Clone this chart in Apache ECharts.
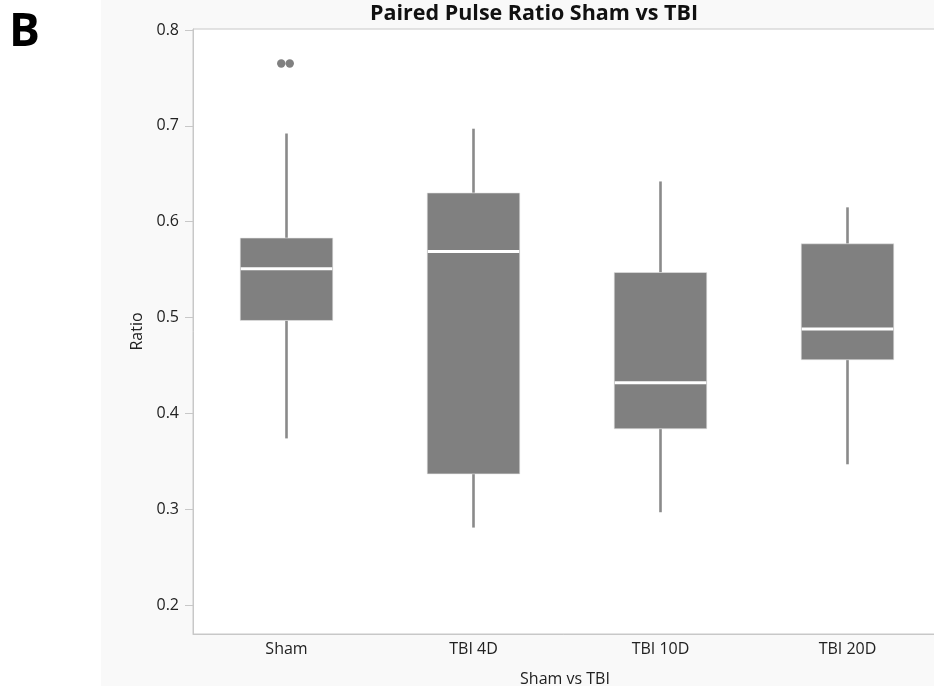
<!DOCTYPE html>
<html>
<head>
<meta charset="utf-8">
<script src="https://cdn.jsdelivr.net/npm/echarts@6/dist/echarts.min.js"></script>
<style>
html,body{margin:0;padding:0;background:#fff;}
#chart{width:934px;height:686px;}
</style>
</head>
<body>
<div id="chart"></div>
<script>
const categories = ['Sham', 'TBI 4D', 'TBI 10D', 'TBI 20D'];
const whiskerLow  = [0.374, 0.281, 0.297, 0.347];
const q1          = [0.497, 0.337, 0.384, 0.456];
const median      = [0.551, 0.569, 0.432, 0.488];
const q3          = [0.583, 0.630, 0.547, 0.577];
const whiskerHigh = [0.692, 0.697, 0.642, 0.615];
const outlierCategory = [0, 0];
const outlierValue    = [0.765, 0.765];
const yTicks = [0.2, 0.3, 0.4, 0.5, 0.6, 0.7, 0.8];

const boxData = categories.map((c, i) => [i, whiskerLow[i], q1[i], median[i], q3[i], whiskerHigh[i]]);
const outlierData = outlierValue.map((v, i) => [outlierCategory[i], v, i]);

const FONT = '"Open Sans", "Noto Sans", sans-serif';
const chart = echarts.init(document.getElementById('chart'));
chart.setOption({
  animation: false,
  backgroundColor: '#ffffff',
  graphic: [
    { type: 'rect', z: -10, shape: { x: 101, y: 0, width: 833, height: 686 }, style: { fill: '#f9f9f9' } },
    { type: 'text', left: 9, top: 10, style: { text: 'B', font: 'bold 46px ' + FONT, fill: '#000' } }
  ],
  title: {
    text: 'Paired Pulse Ratio Sham vs TBI',
    left: 529, top: -2, textAlign: 'center',
    textStyle: { fontFamily: FONT, fontSize: 21.5, fontWeight: 'bold', color: '#111' }
  },
  grid: {
    left: 193, top: 29, width: 748, bottom: 52,
    outerBoundsMode: 'none',
    containLabel: false,
    show: true, backgroundColor: '#ffffff', borderColor: '#c8c8c8', borderWidth: 1
  },
  xAxis: {
    type: 'category',
    data: categories,
    name: 'Sham vs TBI',
    nameLocation: 'middle',
    nameGap: 37,
    nameTextStyle: { fontFamily: FONT, fontSize: 16, color: '#222', padding: [0, 0, 0, -4] },
    axisLine: { show: true, lineStyle: { color: '#c8c8c8' } },
    axisTick: { show: false },
    axisLabel: { fontFamily: FONT, fontSize: 16, color: '#222', margin: 7 },
    splitLine: { show: false }
  },
  yAxis: {
    type: 'value',
    min: 0.17, max: 0.801,
    name: 'Ratio',
    nameLocation: 'middle',
    nameGap: 48,
    nameTextStyle: { fontFamily: FONT, fontSize: 16, color: '#222' },
    axisLine: { show: true, lineStyle: { color: '#c8c8c8' } },
    axisTick: { show: true, length: 8, lineStyle: { color: '#c8c8c8' }, customValues: yTicks },
    axisLabel: { fontFamily: FONT, fontSize: 16, color: '#222', margin: 14, customValues: yTicks,
      formatter: v => v.toFixed(1) },
    splitLine: { show: false }
  },
  series: [
    {
      type: 'custom',
      data: boxData,
      renderItem: function (params, api) {
        const x = api.value(0);
        const bw = api.size([1, 0])[0] * 0.495;
        const pLow = api.coord([x, api.value(1)]);
        const pQ1 = api.coord([x, api.value(2)]);
        const pMed = api.coord([x, api.value(3)]);
        const pQ3 = api.coord([x, api.value(4)]);
        const pHigh = api.coord([x, api.value(5)]);
        const cx = pQ1[0];
        return {
          type: 'group',
          children: [
            { type: 'line', shape: { x1: cx, y1: pHigh[1], x2: cx, y2: pQ3[1] }, style: { stroke: '#8a8a8a', lineWidth: 2.6 } },
            { type: 'line', shape: { x1: cx, y1: pQ1[1], x2: cx, y2: pLow[1] }, style: { stroke: '#8a8a8a', lineWidth: 2.6 } },
            { type: 'rect', shape: { x: cx - bw / 2, y: pQ3[1], width: bw, height: pQ1[1] - pQ3[1] }, style: { fill: '#808080', stroke: '#e6e6e6', lineWidth: 0.6 } },
            { type: 'line', shape: { x1: cx - bw / 2 + 0.5, y1: pMed[1], x2: cx + bw / 2 - 0.5, y2: pMed[1] }, style: { stroke: '#ffffff', lineWidth: 3 } }
          ]
        };
      }
    },
    {
      type: 'custom',
      data: outlierData,
      renderItem: function (params, api) {
        const p = api.coord([api.value(0), api.value(1)]);
        const off = (api.value(2) - 0.5) * 8.5 - 1;
        return { type: 'circle', shape: { cx: p[0] + off, cy: p[1], r: 4.2 }, style: { fill: '#808080' } };
      }
    }
  ]
});
</script>
</body>
</html>
